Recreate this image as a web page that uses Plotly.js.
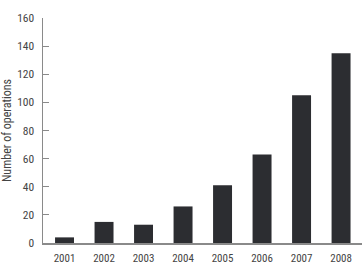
<!DOCTYPE html>
<html><head><meta charset="utf-8">
<script src="https://cdn.plot.ly/plotly-3.0.1.min.js"></script>
<style>html,body{margin:0;padding:0;background:#fff}#chart{width:363px;height:266px}</style>
</head><body><div id="chart"></div>
<script>
const years = ['2001','2002','2003','2004','2005','2006','2007','2008'];
const operations = [4, 15, 13, 26, 41, 63, 105, 135];
const yTicks = [0, 20, 40, 60, 80, 100, 120, 140, 160];

const fam = '"Roboto Condensed", "DejaVu Sans Condensed", "Liberation Sans", sans-serif';
const font = {family: fam, size: 11.5, color: '#444'};

Plotly.newPlot('chart', [{
  type: 'bar', x: years, y: operations,
  marker: {color: '#2c2d31', line: {color: '#2c2d31', width: 0}},
  width: 0.48, hoverinfo: 'none'
}], {
  width: 363, height: 266,
  margin: {l: 43, r: 1, t: 18, b: 23, pad: 0},
  paper_bgcolor: '#fff', plot_bgcolor: '#fff',
  showlegend: false, font: font,
  xaxis: {type: 'category', range: [-0.545, 7.53], showline: true, linecolor: '#8a8a8a', linewidth: 1.5,
          ticks: '', showgrid: false, zeroline: false, tickfont: {family: fam, size: 11, color: '#444'}, ticklabelstandoff: 4},
  yaxis: {range: [0, 160], tickvals: yTicks, showline: true, linecolor: '#8a8a8a', linewidth: 1.5,
          ticks: 'inside', ticklen: 6, tickcolor: '#8a8a8a', tickwidth: 1.2, showgrid: false, zeroline: false,
          tickfont: font, ticklabelstandoff: 5,
          title: {text: 'Number of operations', font: {family: fam, size: 12, color: '#444'}, standoff: 6}}
}, {displayModeBar: false, staticPlot: true});
</script></body></html>
